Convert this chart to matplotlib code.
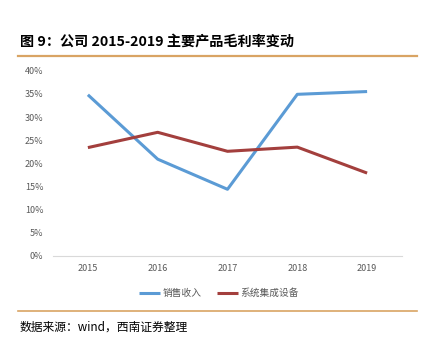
import matplotlib.pyplot as plt
from matplotlib.ticker import PercentFormatter

plt.rcParams['font.family'] = ['Noto Sans CJK SC', 'DejaVu Sans']

# 数据
years = ['2015', '2016', '2017', '2018', '2019']
sales_margin = [0.348, 0.209, 0.144, 0.349, 0.355]
system_margin = [0.234, 0.267, 0.226, 0.235, 0.179]
series_names = ['销售收入', '系统集成设备']

title_text = '图 9：公司 2015-2019 主要产品毛利率变动'
source_text = '数据来源：wind，西南证券整理'

gold = '#D9A464'
blue = '#5B9BD5'
red = '#A33F3D'
grey = '#595959'

fig = plt.figure(figsize=(4.25, 3.5), dpi=100)
ax = fig.add_axes([0.1247, 0.2686, 0.9459 - 0.1247, 0.7980 - 0.2686])

x = range(len(years))
ax.plot(x, sales_margin, color=blue, lw=2.2, label=series_names[0], solid_capstyle='butt')
ax.plot(x, system_margin, color=red, lw=2.2, label=series_names[1], solid_capstyle='butt')

ax.set_xlim(-0.5, len(years) - 0.5)
ax.set_ylim(0, 0.40)
ax.set_yticks([i * 0.05 for i in range(9)])
ax.yaxis.set_major_formatter(PercentFormatter(1.0, decimals=0))
ax.set_xticks(list(x))
ax.set_xticklabels(years)

for s in ['top', 'right', 'left']:
    ax.spines[s].set_visible(False)
ax.spines['bottom'].set_color('#D9D9D9')
ax.spines['bottom'].set_linewidth(0.8)
ax.tick_params(axis='both', length=0, labelsize=6.5, labelcolor=grey)
ax.tick_params(axis='y', pad=7)
ax.tick_params(axis='x', pad=6)

leg = fig.legend(loc='center', bbox_to_anchor=(0.515, 1 - 293 / 350), ncol=2,
                 frameon=False, fontsize=7, handlelength=2.2, columnspacing=1.6,
                 handletextpad=0.2)
for t in leg.get_texts():
    t.set_color(grey)

# 标题与装饰线
fig.text(20 / 425, 1 - 43 / 350, title_text, fontsize=10.2, fontweight='bold',
         va='center', ha='left', color='black')
fig.add_artist(plt.Line2D([18 / 425, 417 / 425], [1 - 55.5 / 350] * 2, color=gold, lw=1.6))
fig.add_artist(plt.Line2D([18 / 425, 417 / 425], [1 - 311 / 350] * 2, color=gold, lw=1.2))
fig.text(20 / 425, 1 - 327 / 350, source_text, fontsize=8.5, style='italic',
         va='center', ha='left', color='black')

fig.savefig('out.png', dpi=100)
